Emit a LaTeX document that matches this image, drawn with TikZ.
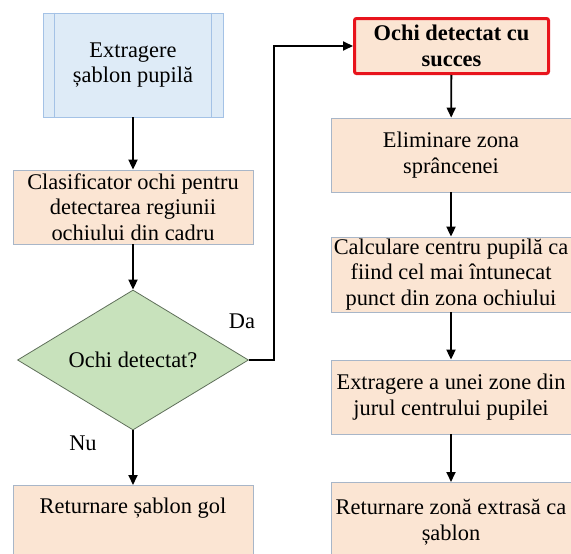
\documentclass[tikz,border=0pt]{standalone}
\usepackage{fontspec}
\setmainfont{Liberation Serif}
\newfontfamily\tnr{Liberation Serif}
\usetikzlibrary{shapes.geometric,arrows.meta}
\definecolor{peach}{HTML}{FBE5D3}
\definecolor{boxline}{HTML}{A8B6C8}
\definecolor{bluefill}{HTML}{DEEBF7}
\definecolor{blueline}{HTML}{A4C2E6}
\definecolor{diamfill}{HTML}{C8E2BC}
\definecolor{diamline}{HTML}{5F6F5A}
\definecolor{redline}{HTML}{E8141C}
\begin{document}
\begin{tikzpicture}[x=1pt,y=-1pt,
  every node/.style={font=\tnr\fontsize{22.4}{25.5}\selectfont, align=center, inner sep=0pt},
  pbox/.style={rectangle, draw=boxline, fill=peach, line width=0.8pt, minimum width=240pt},
  arr/.style={-{Triangle[length=10pt,width=9pt]}, line width=1.8pt, black}]
\useasboundingbox (0,0) rectangle (571,554);
\clip (0,0) rectangle (571,554);
% left column
\node[rectangle, draw=blueline, fill=bluefill, line width=0.8pt, minimum width=180pt, minimum height=104pt] (b1) at (133,65) {Extragere\\șablon pupilă};
\draw[blueline, line width=0.8pt] ([xshift=12pt]b1.north west) -- ([xshift=12pt]b1.south west);
\draw[blueline, line width=0.8pt] ([xshift=-12pt]b1.north east) -- ([xshift=-12pt]b1.south east);
\node[pbox, minimum height=74pt] (b2) at (133,207) {Clasificator ochi pentru\\detectarea regiunii\\ochiului din cadru};
\node[diamond, draw=diamline, fill=diamfill, line width=0.8pt, aspect=1.65, minimum width=231pt, minimum height=140pt] (d) at (133,360) {Ochi detectat?};
\node[pbox, anchor=north, text height=28pt, text depth=50pt] (b5) at (133,485) {Returnare șablon gol};
% right column
\node[rectangle, draw=redline, line width=3pt, rounded corners=2pt, fill=peach, minimum width=194pt, minimum height=55pt, font=\tnr\fontsize{22.4}{25.5}\selectfont\bfseries] (r0) at (451.5,46) {Ochi detectat cu\\succes};
\node[pbox, minimum height=74pt] (r1) at (451,155) {Eliminare zona\\sprâncenei};
\node[pbox, minimum height=75pt] (r2) at (451,274.5) {Calculare centru pupilă ca\\fiind cel mai întunecat\\punct din zona ochiului};
\node[pbox, minimum height=74pt] (r3) at (451,397) {Extragere a unei zone din\\jurul centrului pupilei};
\node[pbox, anchor=north, minimum height=80pt] (r4) at (451,482) {Returnare zonă extrasă ca\\șablon};
% labels
\node (da) at (242,321) {Da};
\node (nu) at (83,443) {Nu};
% connectors
\coordinate (k) at (274,360);
\draw[arr] (b1) -- (b2);
\draw[arr] (b2) -- (d);
\draw[arr] (d) -- (b5);
\draw[arr] (d.east) -- (k) |- (r0.west);
\draw[arr] (r0) -- (r1);
\draw[arr] (r1) -- (r2);
\draw[arr] (r2) -- (r3);
\draw[arr] (r3) -- (r4);
\end{tikzpicture}
\end{document}
